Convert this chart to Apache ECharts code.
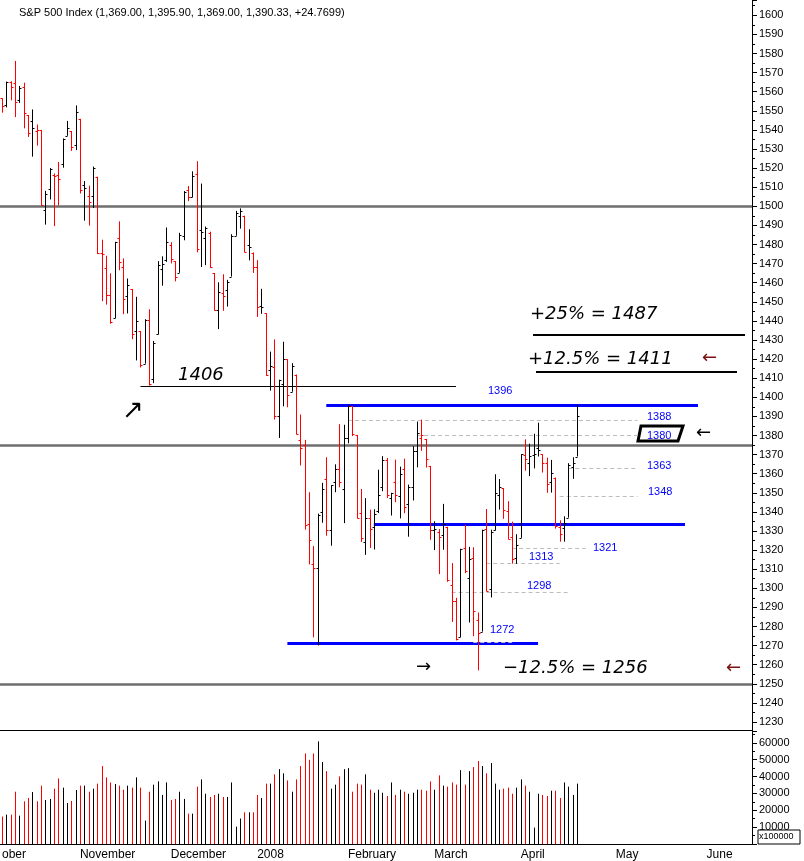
<!DOCTYPE html>
<html><head><meta charset="utf-8">
<script src="https://cdn.jsdelivr.net/npm/echarts@6/dist/echarts.min.js"></script>
<style>html,body{margin:0;padding:0;background:#fff}#c{width:804px;height:861px}</style>
</head><body><div id="c"></div>
<script>
// ---- data (S&P 500 daily, Oct 8 2007 .. Apr 18 2008) ----
const opens = [1556.5,1553.2,1564.9,1564.7,1555.4,1562.3,1547.8,1544.4,1539.3,1540.0,1497.8,1509.3,1516.6,1516.2,1522.2,1536.9,1539.4,1532.2,
1545.8,1511.1,1505.6,1505.3,1515.5,1475.3,1467.6,1453.7,1441.4,1483.4,1468.0,1453.1,1456.7,1434.5,1434.7,1417.6,1440.7,1409.6,1432.9,1467.4,1471.8,
1479.6,1471.3,1465.2,1484.6,1508.6,1505.1,1516.7,1487.6,1483.3,1486.2,1465.1,1445.9,1454.7,1456.4,1463.2,1484.6,1495.1,1495.1,1479.8,1475.3,
1468.0,1447.6,1444.0,1414.1,1415.7,1390.3,1406.8,1419.9,1402.9,1411.9,1377.4,1374.8,1333.9,1312.9,1310.4,1340.1,1357.3,1330.7,1355.9,1362.2,1352.0,
1378.6,1395.4,1380.3,1339.5,1324.0,1336.9,1331.9,1340.6,1353.1,1367.3,1347.5,1355.9,1348.4,1362.2,1344.2,1352.8,1371.8,1378.9,1378.2,1364.1,
1330.5,1329.6,1327.7,1332.2,1301.5,1293.2,1274.4,1321.1,1305.3,1316.1,1283.2,1277.3,1331.0,1299.7,1330.3,1349.1,1352.5,1340.3,1327.0,1315.9,
1326.4,1370.0,1365.7,1369.9,1373.7,1370.2,1365.5,1355.4,1358.0,1332.2,1331.7,1337.0,1363.4,1369.0];
const highs = [1556.5,1565.3,1565.4,1576.1,1563.0,1564.7,1547.8,1550.7,1542.8,1540.0,1508.1,1520.0,1517.2,1523.2,1535.5,1544.7,1539.4,1552.8,
1545.8,1513.2,1510.8,1520.8,1515.5,1482.5,1474.1,1464.9,1481.4,1492.1,1472.7,1462.2,1456.7,1452.6,1434.7,1440.9,1446.1,1429.5,1471.3,1473.8,1488.9,
1481.2,1471.3,1486.1,1508.0,1510.6,1518.3,1523.6,1511.9,1489.4,1486.7,1465.1,1460.2,1464.4,1461.5,1485.4,1497.6,1498.9,1495.1,1488.0,1475.8,
1471.8,1456.8,1444.0,1423.9,1430.3,1409.2,1429.1,1419.9,1417.9,1411.9,1391.0,1377.7,1350.3,1322.1,1339.1,1355.2,1368.6,1354.0,1364.9,1385.9,1385.6,
1396.0,1395.4,1380.3,1352.0,1347.2,1341.2,1341.4,1362.1,1369.2,1368.2,1350.0,1367.3,1363.7,1367.9,1354.3,1374.4,1387.3,1388.3,1378.2,1364.1,
1335.1,1331.0,1344.2,1332.2,1313.2,1295.0,1320.7,1333.3,1321.7,1321.5,1287.3,1330.7,1341.5,1330.7,1359.7,1357.2,1352.5,1345.6,1334.9,1328.3,
1370.2,1378.0,1375.7,1380.9,1386.7,1370.2,1368.4,1367.2,1358.0,1335.6,1337.7,1365.5,1368.6,1395.9];
const lows = [1549.0,1551.8,1555.5,1546.7,1554.1,1540.8,1536.3,1526.0,1531.8,1500.3,1490.4,1503.6,1489.6,1500.5,1520.2,1536.9,1529.0,1529.4,
1506.7,1492.5,1489.9,1499.1,1475.0,1450.3,1448.5,1438.5,1441.4,1466.5,1443.5,1443.9,1430.4,1419.3,1415.6,1417.6,1406.1,1407.4,1432.9,1458.4,1470.9,
1470.1,1460.7,1465.2,1482.2,1502.7,1504.7,1475.9,1468.2,1469.2,1467.8,1445.4,1435.7,1445.3,1447.5,1463.2,1484.6,1488.3,1475.9,1471.7,1465.1,
1442.1,1443.7,1411.2,1403.5,1388.3,1378.7,1395.3,1394.8,1402.9,1380.6,1364.3,1330.7,1312.5,1274.3,1270.1,1334.3,1327.5,1322.3,1350.3,1352.9,1334.1,
1375.9,1379.7,1336.6,1324.3,1317.5,1321.1,1320.3,1339.4,1350.8,1347.3,1338.1,1345.1,1336.6,1339.3,1327.0,1346.0,1363.3,1372.0,1363.2,1325.4,
1320.0,1307.4,1320.2,1303.4,1282.4,1272.7,1274.4,1307.9,1282.1,1274.9,1257.0,1277.3,1298.4,1295.2,1330.3,1341.2,1336.4,1325.7,1312.9,1312.8,
1326.4,1361.6,1358.7,1362.8,1369.0,1360.6,1350.0,1350.1,1331.2,1324.4,1324.4,1337.0,1357.3,1369.0];
const closes = [1552.6,1565.2,1562.5,1554.4,1561.8,1548.7,1538.5,1541.2,1540.1,1500.6,1506.3,1519.6,1515.9,1514.4,1535.3,1541.0,1531.0,1549.4,
1508.4,1509.7,1502.2,1520.3,1475.6,1474.8,1453.7,1439.2,1481.1,1470.6,1451.2,1458.7,1433.3,1439.7,1416.8,1440.7,1407.2,1428.2,1469.0,1469.7,1481.1,
1472.4,1462.8,1485.0,1507.3,1504.7,1516.0,1477.7,1486.6,1488.4,1468.0,1445.9,1455.0,1453.0,1460.1,1484.5,1496.5,1497.7,1476.3,1478.5,1468.4,
1447.2,1447.2,1411.6,1416.2,1390.2,1409.1,1420.3,1401.0,1416.3,1381.0,1373.2,1333.3,1325.2,1310.5,1338.6,1352.1,1330.6,1354.0,1362.3,1355.8,1378.6,
1395.4,1380.8,1336.6,1326.5,1336.9,1331.3,1339.1,1348.9,1367.2,1348.9,1350.0,1348.8,1360.0,1342.5,1353.1,1371.8,1381.3,1380.0,1367.7,1330.6,
1331.3,1326.8,1333.7,1304.3,1293.4,1273.4,1320.7,1308.8,1315.5,1288.1,1276.6,1330.7,1298.4,1329.5,1349.9,1353.0,1341.1,1325.8,1315.2,1322.7,
1370.2,1367.5,1369.3,1370.4,1372.5,1365.5,1354.5,1360.6,1332.8,1328.3,1334.4,1364.7,1365.6,1390.3];
const prevClose0 = 1557.6;
const volumes = [16300,17400,17400,31000,16800,25300,27300,30800,25300,34600,26100,26700,32800,38900,33400,24300,25500,32000,34600,34600,
31000,32800,35800,46200,39500,36500,35600,34600,32200,34600,33400,39500,33400,13900,31000,35200,37100,29100,36500,26100,
26700,31000,26700,18000,18000,34000,38300,29800,27900,29100,29800,27900,27900,36500,10300,15100,18800,18800,18800,29100,
27300,35800,35800,41300,44400,41900,37700,31000,38300,46200,53700,49900,53700,60800,48600,43200,32800,35200,40100,44400,
45000,31000,35800,35200,41300,32200,30400,32200,30400,28500,36500,29100,32200,31000,29800,30400,32200,32200,31600,37100,
32200,40700,34600,34000,36500,35200,43800,35200,43200,45600,49200,46200,41900,48000,35800,32200,32800,33400,29800,33400,
38300,34600,31000,9700,29800,29100,28500,31600,31600,27300,36500,34000,29100,35800];
const holidays = ['2007-11-22','2007-12-25','2008-01-01','2008-01-21','2008-02-18','2008-03-21','2008-05-26'];
const monthNames = ['January','February','March','April','May','June','July','August','September','October','November','December'];
const levelLines = [1500,1375,1250];
const supportLines = [ // [price, fromIdx, toIdx]
  [1396,75,161],[1333.5,86,158],[1271,66,124]];
const dashLines = [[1388,80,147],[1380,96,147],[1363,131,147],[1348,129,147],[1321,118,135],[1313,112,129],[1298,104,131],[1272,109,118]];
const line1406 = [1406,32,105];
// ---- categories: trading days ----
const dates=[]; {let d=new Date(Date.UTC(2007,9,8)); while(dates.length<174){const w=d.getUTCDay(); const s=d.toISOString().slice(0,10); if(w>0&&w<6&&holidays.indexOf(s)<0) dates.push(s); d=new Date(d.getTime()+86400000);} }
const isMonthStart=i=> i>0 && dates[i].slice(5,7)!==dates[i-1].slice(5,7);
const isWeekStart=i=> i>0 && (new Date(dates[i]+'T00:00:00Z').getUTCDay() < new Date(dates[i-1]+'T00:00:00Z').getUTCDay());
const up = closes.map((c,i)=> c >= (i===0?prevClose0:closes[i-1]));
const ohlc = closes.map((c,i)=>[i,opens[i],highs[i],lows[i],c,up[i]?1:0]);
const vol = volumes.map((v,i)=>[i,v,up[i]?1:0]);

const chart = echarts.init(document.getElementById('c'));
const font='"Liberation Sans", Arial, sans-serif';
const hand={fontFamily:'"DejaVu Sans"',fontStyle:'italic',fontSize:18,fill:'#000'};
function ml(p,a,b,color,w,type){return [{coord:[a,p],lineStyle:{color:color,width:w,type:type}},{coord:[b,p]}];}
chart.setOption({
  animation:false,
  grid:[{left:0,right:52,top:0,height:722},{left:0,right:52,top:731,height:114}],
  xAxis:[
    {type:'category',data:dates,gridIndex:0,show:false,boundaryGap:true},
    {type:'category',data:dates,gridIndex:1,boundaryGap:true,axisLine:{lineStyle:{color:'#000'}},
     axisTick:{interval:(i)=>isWeekStart(i),length:5,lineStyle:{color:'#000'}},axisLabel:{show:false}},
    {type:'category',data:dates,gridIndex:1,position:'bottom',boundaryGap:true,axisLine:{show:false},
     axisTick:{interval:(i)=>isMonthStart(i),length:16,lineStyle:{color:'#000'}},
     axisLabel:{interval:(i)=>isMonthStart(i),align:'left',margin:5,color:'#000',fontFamily:font,fontSize:12,
       formatter:(v)=>{const m=+v.slice(5,7)-1; return m===0? v.slice(0,4): monthNames[m];}}}
  ],
  yAxis:[
    {type:'value',gridIndex:0,position:'right',min:1230,max:1608,interval:10,splitLine:{show:false},
     axisLine:{show:true,lineStyle:{color:'#000'}},axisTick:{show:true,length:5,lineStyle:{color:'#000'}},
     minorTick:{show:true,splitNumber:2,length:3,lineStyle:{color:'#000'}},
     axisLabel:{showMaxLabel:false,color:'#000',fontFamily:font,fontSize:11,margin:7,formatter:(v)=>String(v)}},
    {type:'value',gridIndex:1,position:'right',min:0,max:67000,interval:10000,splitLine:{show:false},
     axisLine:{show:true,lineStyle:{color:'#000'}},axisTick:{show:true,length:5,lineStyle:{color:'#000'}},
     minorTick:{show:true,splitNumber:2,length:3,lineStyle:{color:'#000'}},
     axisLabel:{showMaxLabel:false,color:'#000',fontFamily:font,fontSize:11,margin:7,formatter:(v)=>v===0?'':String(v)}}
  ],
  series:[
    {type:'custom',xAxisIndex:0,yAxisIndex:0,data:ohlc,z:5,
     renderItem:(p,api)=>{const x=Math.round(api.coord([api.value(0),0])[0])+0.5;
       const yo=api.coord([0,api.value(1)])[1],yh=api.coord([0,api.value(2)])[1],yl=api.coord([0,api.value(3)])[1],yc=api.coord([0,api.value(4)])[1];
       const col=api.value(5)?'#000':'#ff0000';const st={stroke:col,lineWidth:1};
       return {type:'group',children:[
         {type:'line',shape:{x1:x,y1:yh,x2:x,y2:yl},style:st},
         {type:'line',shape:{x1:x-2,y1:Math.round(yo)+0.5,x2:x,y2:Math.round(yo)+0.5},style:st},
         {type:'line',shape:{x1:x,y1:Math.round(yc)+0.5,x2:x+2,y2:Math.round(yc)+0.5},style:st}]};}},
    {type:'custom',xAxisIndex:1,yAxisIndex:1,data:vol,
     renderItem:(p,api)=>{const a=api.coord([api.value(0),api.value(1)]);const b=api.coord([api.value(0),0]);const x=Math.round(a[0])+0.5;
       return {type:'line',shape:{x1:x,y1:a[1],x2:x,y2:b[1]},style:{stroke:api.value(2)?'#000':'#ff0000',lineWidth:1}};}},
    {type:'line',xAxisIndex:0,yAxisIndex:0,data:[],silent:true,
     markLine:{symbol:'none',silent:true,label:{show:false},
      data:[
        ...levelLines.map(v=>({yAxis:v,lineStyle:{color:'#6e6e6e',width:2.5,type:'solid'}})),
        ml(line1406[0],line1406[1],line1406[2],'#000',1,'solid'),
        ...supportLines.map(s=>ml(s[0],s[1],s[2],'#0000ff',3,'solid')),
        ...dashLines.map(s=>ml(s[0],s[1],s[2],'#bdbdbd',1,[4,3]))
      ]}}
  ],
  graphic:[
    {type:'text',left:19,top:7,style:{text:'S&P 500 Index (1,369.00, 1,395.90, 1,369.00, 1,390.33, +24.7699)',font:'11px '+font,fill:'#000'}},
    {type:'line',shape:{x1:0,y1:730.5,x2:752,y2:730.5},style:{stroke:'#000',lineWidth:1}},
    {type:'line',shape:{x1:752.5,y1:722,x2:752.5,y2:731},style:{stroke:'#000',lineWidth:1}},
    {type:'text',left:2,top:849,style:{text:'ober',font:'12px '+font,fill:'#000'}},
    {type:'rect',shape:{x:758,y:830,width:42,height:14},style:{fill:'#fff',stroke:'#000',lineWidth:1}},
    {type:'text',left:759,top:832,style:{text:'x100000',font:'9px '+font,fill:'#000'}},
    ...[['1396',488,385],['1388',647,411],['1380',647,430],['1363',647,460],['1348',648,486],['1321',593,542],['1313',529,551],['1298',527,580],['1272',490,624]]
      .map(t=>({type:'text',left:t[1],top:t[2],z:10,style:{text:t[0],font:'11px '+font,fill:'#0000ff'}})),
    {type:'polygon',shape:{points:[[641,426],[683,426],[678,441],[638,441]]},style:{fill:'none',stroke:'#000',lineWidth:3}},
    {type:'text',left:696,top:424,style:Object.assign({},hand,{text:'←'})},
    {type:'text',left:178,top:366,style:Object.assign({},hand,{text:'1406'})},
    {type:'text',left:122,top:398,style:Object.assign({},hand,{text:'↗',fontSize:26})},
    {type:'text',left:530,top:305,style:Object.assign({},hand,{text:'+25% = 1487'})},
    {type:'line',shape:{x1:533,y1:335,x2:745,y2:335},style:{stroke:'#000',lineWidth:2}},
    {type:'text',left:528,top:350,style:Object.assign({},hand,{text:'+12.5% = 1411'})},
    {type:'text',left:702,top:349,style:Object.assign({},hand,{text:'←',fill:'#7a1010'})},
    {type:'line',shape:{x1:536,y1:372,x2:737,y2:372},style:{stroke:'#000',lineWidth:2}},
    {type:'text',left:416,top:658,style:Object.assign({},hand,{text:'→'})},
    {type:'text',left:503,top:659,style:Object.assign({},hand,{text:'−12.5% = 1256'})},
    {type:'text',left:726,top:659,style:Object.assign({},hand,{text:'←',fill:'#7a1010'})}
  ]
});
</script></body></html>
